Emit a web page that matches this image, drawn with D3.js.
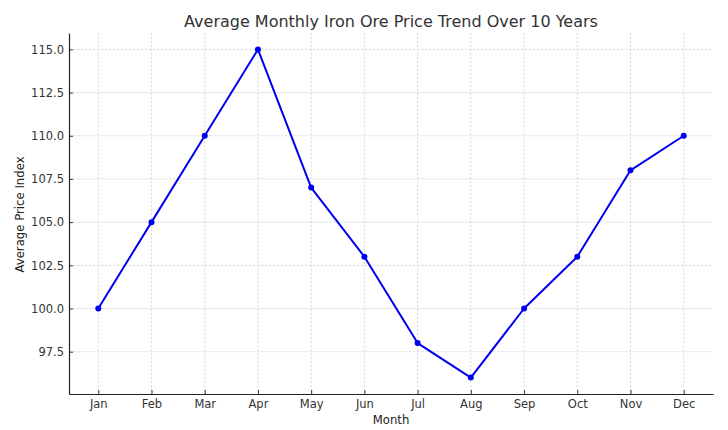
<!DOCTYPE html>
<html><head><meta charset="utf-8">
<script src="https://cdn.jsdelivr.net/npm/d3@7"></script>
<style>
body{margin:0;background:#fff;}
text{font-family:"DejaVu Sans",sans-serif;}
</style></head>
<body>
<svg id="c" width="728" height="430"></svg>
<script>
const months = ["Jan","Feb","Mar","Apr","May","Jun","Jul","Aug","Sep","Oct","Nov","Dec"];
const priceIndex = [100,105,110,115,107,103,98,96,100,103,108,110];
const yTicks = [97.5,100.0,102.5,105.0,107.5,110.0,112.5,115.0];
const titleText = "Average Monthly Iron Ore Price Trend Over 10 Years";
const xLabel = "Month";
const yLabel = "Average Price Index";

const svg = d3.select("#c");
const L = 69, R = 713, T = 33, B = 394;
const n = months.length;
const ymin = d3.min(priceIndex), ymax = d3.max(priceIndex);
const ypad = (ymax - ymin) * 0.05;
const x = d3.scaleLinear().domain([-0.55, n - 1 + 0.55]).range([L, R]);
const y = d3.scaleLinear().domain([ymin - ypad, ymax + ypad]).range([B, T]);

const g = svg.append("g");
// grid
g.selectAll(".gx").data(months).enter().append("line")
  .attr("x1",(d,i)=>x(i)).attr("x2",(d,i)=>x(i)).attr("y1",T).attr("y2",B)
  .attr("stroke","#d4d4d4").attr("stroke-width",0.8).attr("stroke-dasharray","2.5,1.5");
g.selectAll(".gy").data(yTicks).enter().append("line")
  .attr("x1",L).attr("x2",R).attr("y1",d=>y(d)).attr("y2",d=>y(d))
  .attr("stroke","#d4d4d4").attr("stroke-width",0.8).attr("stroke-dasharray","2.5,1.5");

// axes
const xAxis = d3.axisBottom(x).tickValues(d3.range(n)).tickFormat(i=>months[i]).tickSizeInner(-4).tickSizeOuter(0).tickPadding(6);
const yAxis = d3.axisLeft(y).tickValues(yTicks).tickFormat(d3.format(".1f")).tickSizeInner(-4).tickSizeOuter(0).tickPadding(5);
const gx = svg.append("g").attr("transform",`translate(0,${B})`).call(xAxis);
const gy = svg.append("g").attr("transform",`translate(${L},0)`).call(yAxis);
[gx,gy].forEach(a=>{
  a.attr("font-size",11.5).attr("font-family","DejaVu Sans");
  a.select(".domain").attr("stroke","#222").attr("stroke-width",1.2);
  a.selectAll(".tick line").attr("stroke","#222").attr("stroke-width",0.9);
  a.selectAll(".tick text").attr("fill","#333").attr("font-size",11.5).attr("font-family","DejaVu Sans");
});

// line
const line = d3.line().x((d,i)=>x(i)).y(d=>y(d));
svg.append("path").datum(priceIndex).attr("d",line).attr("fill","none")
  .attr("stroke","#0000f0").attr("stroke-width",2).attr("stroke-linejoin","round");
svg.selectAll(".pt").data(priceIndex).enter().append("circle")
  .attr("cx",(d,i)=>x(i)).attr("cy",d=>y(d)).attr("r",3).attr("fill","#0000f0");

// title and labels
svg.append("text").attr("x",(L+R)/2).attr("y",27).attr("text-anchor","middle")
  .attr("fill","#333").attr("font-size",16).text(titleText);
svg.append("text").attr("x",(L+R)/2).attr("y",424).attr("text-anchor","middle")
  .attr("fill","#222").attr("font-size",11.7).text(xLabel);
svg.append("text").attr("transform",`translate(24,${(T+B)/2 + 1}) rotate(-90)`).attr("text-anchor","middle")
  .attr("fill","#222").attr("font-size",11.7).text(yLabel);
</script>
</body></html>
